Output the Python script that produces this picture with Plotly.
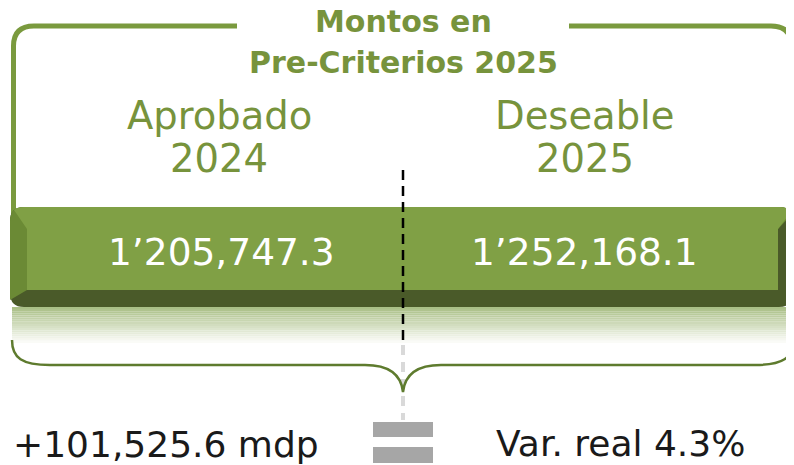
import plotly.graph_objects as go

# ---- data ----
titulo = ["Montos en", "Pre-Criterios 2025"]
categorias = ["Aprobado", "Deseable"]
anios = ["2024", "2025"]
montos = [1205747.3, 1252168.1]
diferencia_mdp = 101525.6
var_real_pct = 4.3

W, H = 794, 465
OFF = 8  # default page body margin
GREEN_TXT = "#77933C"
GREEN_LINE = "#7A9A3E"
BRACE = "#5E7B2E"
FACE = "#80A045"
BEVEL_L = "#6B8A35"
DARK = "#4A5A29"
FONT = "DejaVu Sans"


def fmt_monto(v):
    s = f"{v:,.1f}"
    return s.replace(",", "\u2019", 1)


def fmt_dif(v):
    return f"+{v:,.1f} mdp"


fig = go.Figure()
fig.add_trace(go.Scatter(x=[OFF, W], y=[OFF, H], mode="markers",
                         marker=dict(opacity=0), hoverinfo="skip", showlegend=False))

shapes = []
# top bracket
shapes.append(dict(type="path", path="M 237,26 L 34,26 Q 13.5,26 13.5,46 L 13.5,225",
                   line=dict(color=GREEN_LINE, width=5), layer="below"))
shapes.append(dict(type="path", path="M 569,26 L 771,26 Q 791.5,26 791.5,46 L 791.5,225",
                   line=dict(color=GREEN_LINE, width=5), layer="below"))

# reflection gradient under the bar
n = 18
y0, y1 = 307, 345
for i in range(n):
    t = i / (n - 1)
    r = int(170 + (255 - 170) * t)
    g = int(192 + (255 - 192) * t)
    b = int(135 + (255 - 135) * t)
    ya = y0 + (y1 - y0) * i / n
    yb = y0 + (y1 - y0) * (i + 1) / n
    shapes.append(dict(type="rect", x0=12, x1=792, y0=ya, y1=yb,
                       fillcolor=f"rgb({r},{g},{b})", line=dict(width=0), layer="below"))

# faint gray dashes (reflection of divider)
shapes.append(dict(type="line", x0=403, x1=403, y0=345, y1=420,
                   line=dict(color="rgba(170,170,170,0.45)", width=4, dash="10px,7px"),
                   layer="below"))

# bar: base (dark)
shapes.append(dict(type="path",
                   path="M 24,207 L 779,207 Q 793,207 793,221 L 793,293 Q 793,307 779,307 "
                        "L 24,307 Q 10,307 10,293 L 10,221 Q 10,207 24,207 Z",
                   fillcolor=DARK, line=dict(width=0), layer="above"))
# left bevel + face area
shapes.append(dict(type="path",
                   path="M 10,300 L 10,221 Q 10,207 24,207 L 779,207 Q 790,207 792,214 "
                        "L 778,229 L 778,290 L 27,290 Z",
                   fillcolor=BEVEL_L, line=dict(width=0), layer="above"))
# top face
shapes.append(dict(type="path",
                   path="M 14,210 L 27,229 L 27,290 L 778,290 L 778,229 L 791,212 "
                        "Q 788,207 779,207 L 24,207 Q 17,207 14,210 Z",
                   fillcolor=FACE, line=dict(width=0), layer="above"))

# divider dashed line
shapes.append(dict(type="line", x0=403, x1=403, y0=170, y1=342,
                   line=dict(color="black", width=2.5, dash="10px,6px"), layer="above"))

# bottom curly brace
shapes.append(dict(type="path",
                   path="M 12,340 C 12,358 22,365 50,365 L 365,365 C 388,365 401,374 403,392 "
                        "C 405,374 418,365 441,365 L 755,365 C 783,365 793,358 793,340",
                   line=dict(color=BRACE, width=2.5), layer="above"))

# equals sign
shapes.append(dict(type="rect", x0=373, x1=433, y0=422, y1=437,
                   fillcolor="#A6A6A6", line=dict(width=0), layer="above"))
shapes.append(dict(type="rect", x0=373, x1=433, y0=447, y1=463,
                   fillcolor="#A6A6A6", line=dict(width=0), layer="above"))

ann = []
title_y = [21.5, 62.5]
for txt, yy in zip(titulo, title_y):
    ann.append(dict(x=403, y=yy, text=f"<b>{txt}</b>", showarrow=False,
                    xanchor="center", yanchor="middle",
                    font=dict(family=FONT, size=30, color=GREEN_TXT)))

label_x = [219, 585]
value_x = [221, 584]
for cat, an, m, lx, vx in zip(categorias, anios, montos, label_x, value_x):
    ann.append(dict(x=lx, y=115, text=cat, showarrow=False, xanchor="center", yanchor="middle",
                    font=dict(family=FONT, size=38.5, color=GREEN_TXT)))
    ann.append(dict(x=lx, y=158, text=an, showarrow=False, xanchor="center", yanchor="middle",
                    font=dict(family=FONT, size=38.5, color=GREEN_TXT)))
    ann.append(dict(x=vx, y=252, text=fmt_monto(m), showarrow=False, xanchor="center",
                    yanchor="middle", font=dict(family=FONT, size=37.5, color="white")))

ann.append(dict(x=166, y=444, text=fmt_dif(diferencia_mdp), showarrow=False,
                xanchor="center", yanchor="middle",
                font=dict(family=FONT, size=36, color="#1A1A1A")))
ann.append(dict(x=620, y=443, text=f"Var. real {var_real_pct:.1f}%", showarrow=False,
                xanchor="center", yanchor="middle",
                font=dict(family=FONT, size=36, color="#1A1A1A")))

fig.update_layout(
    width=W - OFF, height=H - OFF, margin=dict(l=0, r=0, t=0, b=0),
    paper_bgcolor="white", plot_bgcolor="white",
    xaxis=dict(range=[OFF, W], visible=False, fixedrange=True),
    yaxis=dict(range=[H, OFF], visible=False, fixedrange=True),
    shapes=shapes, annotations=ann, showlegend=False,
)

fig.write_html("out.html", config={"displayModeBar": False})
